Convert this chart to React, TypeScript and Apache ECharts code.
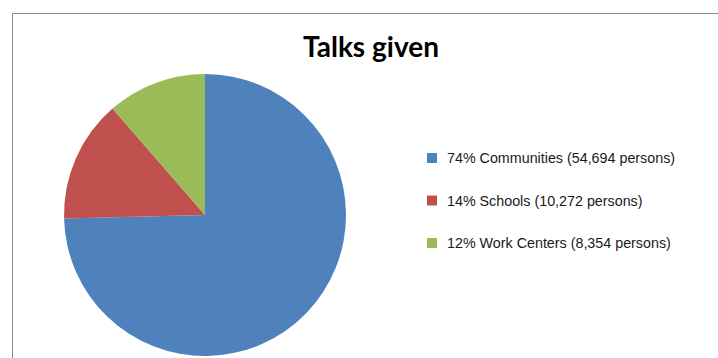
import React, { useEffect, useRef } from "react";
import * as echarts from "echarts";

const categories = ["Communities", "Schools", "Work Centers"];
const persons = [54694, 10272, 8354];
const percentLabels = ["74%", "14%", "12%"];
const colors = ["#4F81BD", "#C0504D", "#9BBB59"];
const titleText = "Talks given";

export default function App() {
  const ref = useRef<HTMLDivElement>(null);
  useEffect(() => {
    if (!ref.current) return;
    const chart = echarts.init(ref.current, undefined, { renderer: "svg" });
    const labelOf: Record<string, string> = {};
    categories.forEach((c, i) => {
      labelOf[c] = `${percentLabels[i]} ${c} (${persons[i].toLocaleString("en-US")} persons)`;
    });
    chart.setOption({
      animation: false,
      backgroundColor: "#ffffff",
      title: {
        text: titleText,
        left: 366,
        textAlign: "center",
        top: 27,
        textStyle: {
          fontFamily: "Lato",
          fontWeight: "bold",
          fontSize: 28,
          color: "#000000",
        },
      },
      graphic: [
        {
          type: "polyline",
          shape: { points: [[12.5, 358], [12.5, 13.5], [718, 13.5]] },
          style: { stroke: "#8c8c8c", fill: "none", lineWidth: 1 },
          silent: true,
        },
      ],
      legend: {
        orient: "vertical",
        left: 427,
        top: 151,
        padding: 0,
        itemWidth: 10,
        itemHeight: 10,
        itemGap: 28.5,
        icon: "rect",
        selectedMode: false,
        formatter: (name: string) => labelOf[name],
        textStyle: {
          fontFamily: "Liberation Sans",
          fontSize: 14.3,
          lineHeight: 14,
          color: "#1a1a1a",
          padding: [0, 0, 0, 5],
        },
        data: categories,
      },
      series: [
        {
          type: "pie",
          center: [205, 215],
          radius: 141,
          startAngle: 90,
          clockwise: true,
          label: { show: false },
          labelLine: { show: false },
          emphasis: { disabled: true },
          itemStyle: { borderWidth: 0 },
          data: categories.map((c, i) => ({
            name: c,
            value: persons[i],
            itemStyle: { color: colors[i] },
          })),
        },
      ],
    });
    return () => chart.dispose();
  }, []);
  return (
    <div
      ref={ref}
      style={{ position: "absolute", left: 0, top: 0, width: 718, height: 358 }}
    />
  );
}
